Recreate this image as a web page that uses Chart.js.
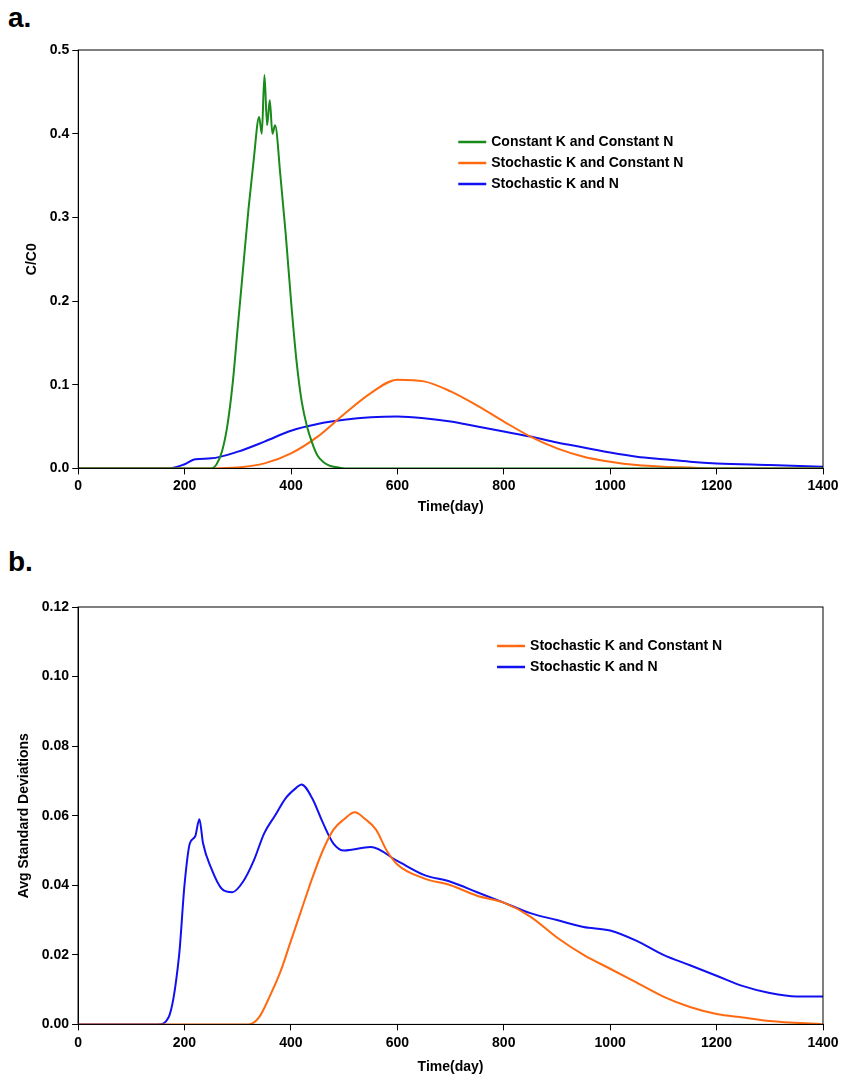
<!DOCTYPE html>
<html><head><meta charset="utf-8">
<script src="https://cdn.jsdelivr.net/npm/chart.js@4/dist/chart.umd.min.js"></script>
<style>
body{margin:0;background:#fff;font-family:"Liberation Sans",Arial,sans-serif}
.box{position:absolute;left:0;width:847px}
.lab{position:absolute;left:8px;font-weight:bold;font-size:28px}
</style></head><body>
<div class="lab" style="top:2px">a.</div>
<div class="box" style="top:0;height:518px"><canvas id="chartA"></canvas></div>
<div class="lab" style="top:546px">b.</div>
<div class="box" style="top:556px;height:524px"><canvas id="chartB"></canvas></div>
<script>
// panel a: C/C0
var greenDaysA = [0,240,250,260,270,280,290,300,310,320,330,340,345,350,355,360,365,370,380,390,400,410,420,430,440,450,460,470,480,490,500,1400];
var greenValsA = [0,0,0,0.005,0.02,0.05,0.1,0.17,0.24,0.31,0.37,0.42,0.40,0.47,0.41,0.44,0.40,0.41,0.35,0.28,0.2,0.13,0.08,0.05,0.03,0.015,0.008,0.004,0.002,0.001,0,0];
var orangeDaysA = [0,250,300,350,400,450,500,550,600,650,700,750,800,850,900,950,1000,1050,1100,1150,1200,1400];
var orangeValsA = [0,0,0.001,0.006,0.018,0.038,0.065,0.09,0.106,0.104,0.092,0.075,0.056,0.038,0.024,0.014,0.008,0.004,0.002,0.001,0,0];
var blueDaysA = [0,170,200,220,250,300,350,400,450,500,550,600,650,700,750,800,850,900,950,1000,1050,1100,1150,1200,1300,1400];
var blueValsA = [0,0,0.005,0.011,0.012,0.02,0.032,0.045,0.053,0.058,0.061,0.062,0.06,0.056,0.05,0.044,0.038,0.031,0.025,0.019,0.014,0.011,0.008,0.006,0.004,0.002];
// panel b: avg standard deviations
var orangeDaysB = [0,320,340,360,380,400,420,440,460,480,500,520,540,560,580,600,650,700,750,800,850,900,950,1000,1050,1100,1150,1200,1250,1300,1400];
var orangeValsB = [0,0,0.002,0.008,0.015,0.024,0.033,0.042,0.05,0.056,0.059,0.061,0.059,0.056,0.05,0.046,0.042,0.04,0.037,0.035,0.031,0.025,0.02,0.016,0.012,0.008,0.005,0.003,0.002,0.001,0];
var blueDaysB = [0,150,170,190,200,210,220,228,235,250,270,290,310,330,350,370,390,410,420,440,460,480,500,550,600,650,700,750,800,850,900,950,1000,1050,1100,1150,1200,1250,1300,1350,1400];
var blueValsB = [0,0,0.002,0.02,0.04,0.052,0.054,0.059,0.052,0.045,0.039,0.038,0.041,0.047,0.055,0.06,0.065,0.068,0.069,0.065,0.058,0.052,0.05,0.051,0.047,0.043,0.041,0.038,0.035,0.032,0.03,0.028,0.027,0.024,0.02,0.017,0.014,0.011,0.009,0.008,0.008];
var xTicks = [0,200,400,600,800,1000,1200,1400];

var GREEN = '#1a8a1a', ORANGE = '#ff6a10', BLUE = '#1010f0';
var FONT = {family: '"Liberation Sans", Arial, sans-serif', size: 14, weight: 'bold'};

function pts(d, v) { return d.map(function (x, i) { return {x: x, y: v[i]}; }); }

function framePlugin(items, left, top) {
    return {
        id: 'frame',
        afterDraw: function (c) {
            var a = c.chartArea, ctx = c.ctx;
            ctx.save();
            ctx.strokeStyle = '#000'; ctx.lineWidth = 1;
            ctx.strokeRect(a.left, a.top, a.right - a.left, a.bottom - a.top);
            ctx.font = 'bold 14px "Liberation Sans", Arial, sans-serif';
            ctx.textBaseline = 'middle';
            items.forEach(function (it, i) {
                var y = a.top + top + i * 21;
                ctx.strokeStyle = it.color; ctx.lineWidth = 2.5;
                ctx.beginPath(); ctx.moveTo(a.left + left, y); ctx.lineTo(a.left + left + 28, y); ctx.stroke();
                ctx.fillStyle = '#000';
                ctx.fillText(it.text, a.left + left + 33, y);
            });
            ctx.restore();
        }
    };
}

function makeChart(id, sets, yMax, yStep, yTitle, plugin, pad, tickPad, titlePad) {
    return new Chart(document.getElementById(id).getContext('2d'), {
        type: 'line',
        data: {datasets: sets.map(function (s) {
            return {data: pts(s[0], s[1]), borderColor: s[2], borderWidth: 2, pointRadius: 0, cubicInterpolationMode: 'monotone', fill: false};
        })},
        options: {
            responsive: true, maintainAspectRatio: false, animation: false,
            layout: {padding: pad},
            plugins: {legend: {display: false}, tooltip: {enabled: false}},
            scales: {
                x: {type: 'linear', min: 0, max: 1400,
                    afterBuildTicks: function (ax) { ax.ticks = xTicks.map(function (v) { return {value: v}; }); },
                    grid: {drawOnChartArea: false, color: '#000', tickLength: 6},
                    border: {color: '#000'},
                    ticks: {color: '#000', font: FONT, maxRotation: 0, padding: tickPad, callback: function (v) { return String(v); }},
                    title: {display: true, text: 'Time(day)', color: '#000', font: FONT, padding: titlePad}},
                y: {min: 0, max: yMax,
                    grid: {drawOnChartArea: false, color: '#000', tickLength: 6},
                    border: {color: '#000'},
                    ticks: {stepSize: yStep, color: '#000', font: FONT,
                        callback: function (v) { return v.toFixed(yStep < 0.05 ? 2 : 1); }},
                    title: {display: true, text: yTitle, color: '#000', font: FONT, padding: 6}}
            }
        },
        plugins: [plugin]
    });
}

var legA = [{text: 'Constant K and Constant N', color: GREEN},
            {text: 'Stochastic K and Constant N', color: ORANGE},
            {text: 'Stochastic K and N', color: BLUE}];
makeChart('chartA', [[greenDaysA, greenValsA, GREEN], [orangeDaysA, orangeValsA, ORANGE], [blueDaysA, blueValsA, BLUE]],
    0.5, 0.1, 'C/C0', framePlugin(legA, 380, 92), {top: 50, right: 24, left: 18, bottom: 0}, 3, 2);

var legB = [{text: 'Stochastic K and Constant N', color: ORANGE},
            {text: 'Stochastic K and N', color: BLUE}];
makeChart('chartB', [[orangeDaysB, orangeValsB, ORANGE], [blueDaysB, blueValsB, BLUE]],
    0.12, 0.02, 'Avg Standard Deviations', framePlugin(legB, 419, 39), {top: 51, right: 24, left: 10, bottom: 0}, 4, 4);
</script>
</body></html>
